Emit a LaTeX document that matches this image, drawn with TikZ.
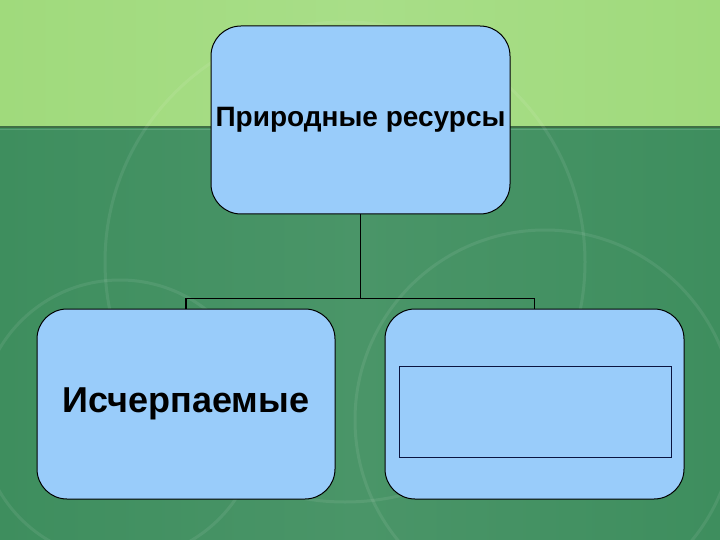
\documentclass[tikz,border=0pt]{standalone}
\usepackage{fontspec}
\setmainfont{Liberation Sans}
\definecolor{boxblue}{HTML}{99CCFA}
\definecolor{topgreen}{HTML}{A0DA7C}
\definecolor{topgreenlight}{HTML}{A8DE88}
\definecolor{botgreen}{HTML}{3E8E5E}
\definecolor{botgreenlight}{HTML}{4A9568}
\definecolor{seamdark}{HTML}{3F6E45}
\definecolor{innerline}{HTML}{0A1440}
\begin{document}
\begin{tikzpicture}[x=1pt,y=-1pt,
  box/.style={draw=black, line width=1pt, fill=boxblue, rounded corners=30pt,
    inner sep=0pt, font=\bfseries, text=black},
  innerbox/.style={draw=innerline, line width=0.9pt, fill=boxblue, inner sep=0pt},
  conn/.style={draw=black, line width=1.6pt},
  deco/.style={draw=white, opacity=0.08, line width=3pt}]
\useasboundingbox (0,0) rectangle (720,540);
% background
\fill[left color=topgreen, right color=topgreen, middle color=topgreenlight] (0,0) rectangle (720,127);
\fill[left color=botgreen, right color=botgreen, middle color=botgreenlight] (0,127) rectangle (720,540);
\draw[seamdark, line width=2pt] (0,127) -- (720,127);
\draw[white, opacity=0.15, line width=1pt] (0,130) -- (720,130);
\begin{scope}
\clip (0,0) rectangle (720,540);
\draw[deco] (345,262) circle (240);
\draw[deco] (545,420) circle (190);
\draw[deco] (120,420) circle (140);
\end{scope}
% nodes
\node[box, minimum width=299pt, minimum height=188pt, font=\bfseries\fontsize{28}{32}\selectfont]
  (top) at (360.5,120) {\raisebox{-4pt}{Природные ресурсы}};
\node[box, minimum width=298pt, minimum height=190pt, font=\bfseries\fontsize{36}{40}\selectfont]
  (left) at (186,404) {\raisebox{-4pt}{Исчерпаемые}};
\node[box, minimum width=299pt, minimum height=190pt] (right) at (534.5,404) {};
\node[innerbox, minimum width=272pt, minimum height=91pt] (inner) at (535,411.5) {};
% connectors
\draw[conn] (top.south) -- ++(0,84) coordinate (j);
\draw[conn] (left.north) |- (j) -| (right.north);
\end{tikzpicture}
\end{document}
